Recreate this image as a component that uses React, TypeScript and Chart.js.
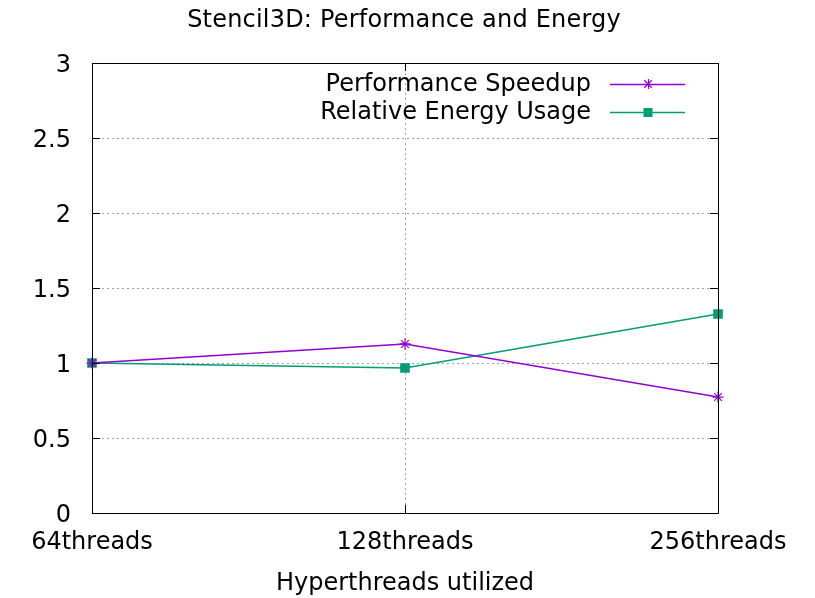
import React, { useEffect, useRef } from "react";
import { Chart, registerables } from "chart.js";

Chart.register(...registerables);

const categories = ["64threads", "128threads", "256threads"];
const perfSpeedup = [1.0, 1.127, 0.773];
const energyUsage = [1.0, 0.967, 1.327];
const yTicks = [0, 0.5, 1, 1.5, 2, 2.5, 3];

const TITLE = "Stencil3D: Performance and Energy";
const X_TITLE = "Hyperthreads utilized";
const FONT = '"DejaVu Sans", sans-serif';
const PURPLE = "#9400d3";
const GREEN = "#009e73";

const framePlugin = {
  id: "frame",
  afterDatasetsDraw(chart: any) {
    const { ctx, chartArea } = chart;
    const { left, right, top, bottom } = chartArea;
    const xs = chart.scales.x;
    const ys = chart.scales.y;
    ctx.save();
    ctx.strokeStyle = "#000";
    ctx.lineWidth = 1;
    ctx.setLineDash([]);
    ctx.beginPath();
    ctx.rect(Math.round(left) + 0.5, Math.round(top) + 0.5, Math.round(right - left), Math.round(bottom - top));
    ctx.stroke();
    const tl = 8;
    ctx.beginPath();
    for (const v of yTicks) {
      const y = Math.round(ys.getPixelForValue(v)) + 0.5;
      ctx.moveTo(left, y);
      ctx.lineTo(left + tl, y);
      ctx.moveTo(right, y);
      ctx.lineTo(right - tl, y);
    }
    for (let i = 0; i < categories.length; i++) {
      const x = Math.round(xs.getPixelForValue(i)) + 0.5;
      ctx.moveTo(x, bottom);
      ctx.lineTo(x, bottom - tl);
      ctx.moveTo(x, top);
      ctx.lineTo(x, top + tl);
    }
    ctx.stroke();
    ctx.restore();
  },
  afterDraw(chart: any) {
    const { ctx, chartArea } = chart;
    const cx = (chartArea.left + chartArea.right) / 2;
    ctx.save();
    ctx.fillStyle = "#000";
    ctx.font = `24px ${FONT}`;
    ctx.textAlign = "center";
    ctx.textBaseline = "middle";
    (ctx as any).letterSpacing = "0.2px";
    ctx.fillText(TITLE, cx - 1, 21);
    (ctx as any).letterSpacing = "0px";
    ctx.fillText(X_TITLE, cx, 584);

    // legend
    const entries = [
      { label: "Performance Speedup", color: PURPLE, style: "star" },
      { label: "Relative Energy Usage", color: GREEN, style: "rect" },
    ];
    const textRight = 591;
    const lineL = 610;
    const lineR = 685;
    const markX = 648;
    entries.forEach((e, i) => {
      const y = 84 + i * 28;
      ctx.textAlign = "right";
      ctx.fillStyle = "#000";
      ctx.fillText(e.label, textRight, y + 1);
      ctx.strokeStyle = e.color;
      ctx.lineWidth = 1.5;
      ctx.beginPath();
      ctx.moveTo(lineL, y + 0.5);
      ctx.lineTo(lineR, y + 0.5);
      ctx.stroke();
      if (e.style === "rect") {
        ctx.fillStyle = e.color;
        ctx.fillRect(markX - 4.5, y - 4, 9, 9);
      } else {
        const r = 5;
        ctx.lineWidth = 1.2;
        ctx.beginPath();
        ctx.moveTo(markX - r, y + 0.5);
        ctx.lineTo(markX + r, y + 0.5);
        ctx.moveTo(markX + 0.5, y - r);
        ctx.lineTo(markX + 0.5, y + r);
        const d = r * 0.75;
        ctx.moveTo(markX - d, y - d);
        ctx.lineTo(markX + d, y + d);
        ctx.moveTo(markX - d, y + d);
        ctx.lineTo(markX + d, y - d);
        ctx.stroke();
      }
    });
    ctx.restore();
  },
};

export default function App() {
  const ref = useRef<HTMLCanvasElement>(null);
  useEffect(() => {
    document.body.style.margin = "0";
    const canvas = ref.current!;
    const chart = new Chart(canvas, {
      type: "line",
      data: {
        labels: categories,
        datasets: [
          {
            label: "Performance Speedup",
            data: perfSpeedup,
            borderColor: PURPLE,
            backgroundColor: PURPLE,
            borderWidth: 1.5,
            pointStyle: "star",
            pointRadius: 5.5,
            pointBorderWidth: 1.2,
            pointBorderColor: PURPLE,
            tension: 0,
          },
          {
            label: "Relative Energy Usage",
            data: energyUsage,
            borderColor: GREEN,
            backgroundColor: GREEN,
            borderWidth: 1.5,
            pointStyle: "rect",
            pointRadius: 6.8,
            pointBorderWidth: 0,
            tension: 0,
          },
        ],
      },
      options: {
        animation: false,
        responsive: false,
        devicePixelRatio: 1,
        layout: { padding: { top: 63, right: 97, left: 0, bottom: 0 } },
        plugins: {
          legend: { display: false },
          title: { display: false },
          tooltip: { enabled: false },
        },
        scales: {
          x: {
            type: "category",
            offset: false,
            afterFit: (s: any) => {
              s.height = 85;
            },
            grid: {
              drawTicks: false,
              color: (c: any) => (c.index === 1 ? "#a0a0a0" : "rgba(0,0,0,0)"),
              lineWidth: 1,
            },
            border: { display: false, dash: [2, 3] },
            ticks: {
              color: "#000",
              font: { family: FONT, size: 24 },
              padding: 15,
              maxRotation: 0,
              autoSkip: false,
            },
          },
          y: {
            min: 0,
            max: 3,
            afterFit: (s: any) => {
              s.width = 92;
            },
            afterBuildTicks: (s: any) => {
              s.ticks = yTicks.map((v) => ({ value: v }));
            },
            grid: {
              drawTicks: false,
              color: (c: any) =>
                c.tick && (c.tick.value === 0 || c.tick.value === 3) ? "rgba(0,0,0,0)" : "#a0a0a0",
              lineWidth: 1,
            },
            border: { display: false, dash: [2, 3] },
            ticks: {
              color: "#000",
              font: { family: FONT, size: 24 },
              padding: 21,
              labelOffset: 3,
              callback: (v: any) => String(v),
            },
          },
        },
      },
      plugins: [framePlugin],
    });
    return () => chart.destroy();
  }, []);
  return (
    <div style={{ width: 815, height: 598 }}>
      <canvas ref={ref} width={815} height={598} style={{ display: "block" }} />
    </div>
  );
}
